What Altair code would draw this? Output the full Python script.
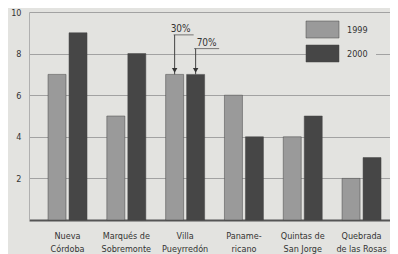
import altair as alt
import pandas as pd

categories = ["Nueva\nCórdoba", "Marqués de\nSobremonte", "Villa\nPueyrredón",
              "Paname-\nricano", "Quintas de\nSan Jorge", "Quebrada\nde las Rosas"]
years = ["1999", "2000"]
v1999 = [7, 5, 7, 6, 4, 2]
v2000 = [9, 8, 7, 4, 5, 3]
y_ticks = [2, 4, 6, 8, 10]

# annotations (Villa Pueyrredón)
ann_cat = categories[2]
ann_text = ["30%", "70%"]
ann_year = ["1999", "2000"]
ann_top = [8.9, 8.24]
ann_base = [7, 7]

BG = "#e3e3e0"
FONT = "Liberation Sans Narrow, DejaVu Sans Condensed, sans-serif"

rows = []
for c, a, b in zip(categories, v1999, v2000):
    rows.append({"cat": c, "year": "1999", "v": a})
    rows.append({"cat": c, "year": "2000", "v": b})
df = pd.DataFrame(rows)
ann = pd.DataFrame({"cat": [ann_cat] * 2, "year": ann_year, "txt": ann_text,
                    "top": ann_top, "base": ann_base,
                    "hx": [18, 41], "len": [20, 25], "tx": [15, 41]})

xscale = alt.Scale(domain=categories, paddingInner=0.337, paddingOuter=0.238, align=0.68)
yscale = alt.Scale(domain=[0, 10])
oscale = alt.Scale(domain=years, paddingInner=0.143, paddingOuter=0)

X = alt.X("cat:N", scale=xscale, sort=categories, title=None,
          axis=alt.Axis(labelAngle=0, labelExpr="split(datum.label, '\\n')",
                        labelFont=FONT, labelFontSize=9, labelLineHeight=13,
                        labelColor="#333", labelPadding=11, ticks=False,
                        domainColor="#555", domainWidth=2, labelBaseline="top"))
Y = alt.Y("v:Q", scale=yscale, title=None,
          axis=alt.Axis(values=y_ticks, labelFont=FONT, labelFontSize=9,
                        labelColor="#333", ticks=False, labelPadding=8,
                        domainColor="#b0b0b0", gridColor="#a2a2a2", gridWidth=1))

bars = alt.Chart(df).mark_bar(stroke="#444", strokeWidth=0.5).encode(
    x=X, y=Y,
    xOffset=alt.XOffset("year:N", scale=oscale, sort=years),
    color=alt.Color("year:N", scale=alt.Scale(domain=years, range=["#9a9a9a", "#464646"]),
                    legend=alt.Legend(title=None, orient="none", legendX=280, legendY=4,
                                      symbolType="M-3.3,-1.7H3.3V1.7H-3.3Z", symbolSize=100,
                                      symbolStrokeColor="#444", symbolStrokeWidth=0.5,
                                      labelFont=FONT, labelFontSize=9, labelColor="#333",
                                      labelOffset=19, rowPadding=5, padding=8,
                                      fillColor=BG)),
)

base_ann = alt.Chart(ann)
xa = alt.X("cat:N", scale=xscale, sort=categories)
xo = alt.XOffset("year:N", scale=oscale, sort=years)

vlines = base_ann.mark_rule(color="#444", strokeWidth=1).encode(
    x=xa, xOffset=xo, y=alt.Y("base:Q", scale=yscale), y2="top:Q")
hlines = base_ann.mark_tick(orient="horizontal", color="#444", thickness=1).encode(
    x=xa, xOffset=alt.XOffset("hx:Q", scale=None), y=alt.Y("top:Q", scale=yscale),
    size=alt.Size("len:Q", scale=None, legend=None))
arrows = base_ann.mark_point(shape="triangle-down", filled=True, color="#333",
                             size=30, opacity=1, yOffset=-4).encode(
    x=xa, xOffset=xo, y=alt.Y("base:Q", scale=yscale))
labels = base_ann.mark_text(font=FONT, fontSize=10, color="#333", baseline="bottom",
                            dy=-1).encode(
    x=xa, xOffset=alt.XOffset("tx:Q", scale=None), y=alt.Y("top:Q", scale=yscale),
    text="txt:N")

chart = alt.layer(bars, vlines, hlines, arrows, labels).properties(
    width=361, height=208,
    autosize=alt.AutoSizeParams(type="none"),
    padding={"left": 21, "top": 4, "right": 0, "bottom": 34},
    background=BG,
).configure_view(stroke=None)

chart.save("out.html", embed_options={"renderer": "svg", "actions": False})
